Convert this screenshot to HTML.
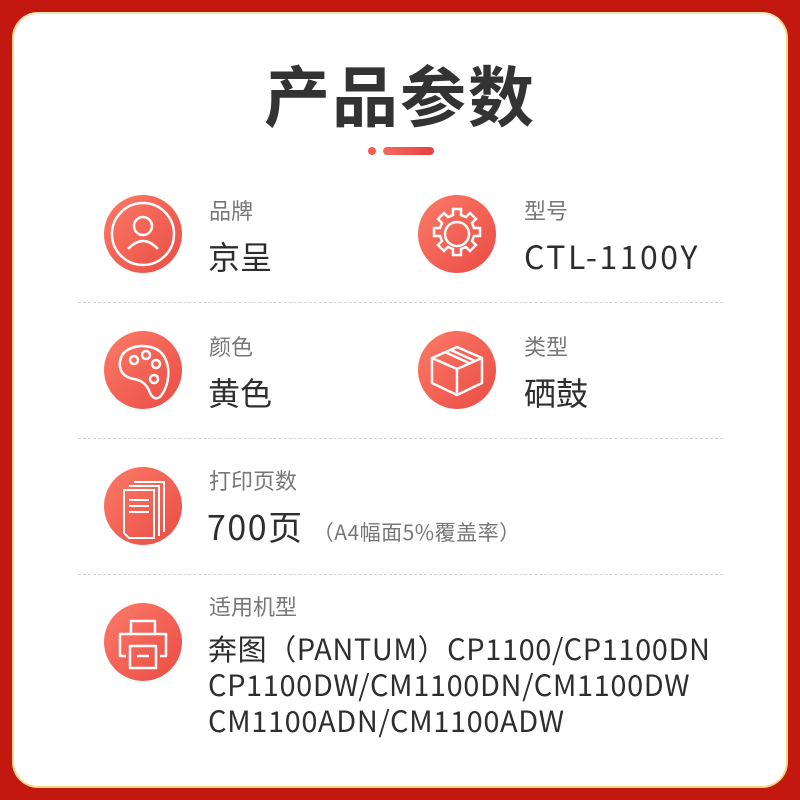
<!DOCTYPE html>
<html><head><meta charset="utf-8"><style>
*{margin:0;padding:0;box-sizing:border-box}
body{width:800px;height:800px;background:#c3180f;position:relative;overflow:hidden;font-family:"Noto Sans CJK SC","Liberation Sans",sans-serif}
.card{position:absolute;left:12px;top:12px;width:776px;height:776px;background:#fff;border-radius:26px;border:2px solid #f3d58a;border-top-color:#f8e6b0}
.t{position:absolute;left:0;width:800px;top:48px;text-align:center;font-size:66px;font-weight:bold;color:#333;letter-spacing:2px;line-height:90px}
.dot{position:absolute;left:368px;top:147px;width:8px;height:8px;border-radius:4px;background:#f25a52}
.bar{position:absolute;left:383px;top:147px;width:51px;height:8px;border-radius:4px;background:linear-gradient(90deg,#f6695f,#e64040)}
.c{position:absolute;width:78px;height:78px;border-radius:50%;background:linear-gradient(135deg,#fb7a68,#ea4c44)}
.c svg{position:absolute;left:0;top:0}
.l{position:absolute;font-size:22px;color:#777;line-height:26px}
.v{position:absolute;font-size:32px;color:#2e2e2e;line-height:38px}
.hr{position:absolute;left:78px;width:645px;border-top:1px dashed #d4d4d4}
.s{font-size:21px;color:#777;letter-spacing:0.5px}
</style></head><body>
<div class="card"></div>
<div class="t">产品参数</div>
<div class="dot"></div><div class="bar"></div>

<div class="c" style="left:104px;top:195px"><svg width="78" height="78" fill="none" stroke="#fff" stroke-width="2.5"><circle cx="39" cy="39" r="31"/><circle cx="39" cy="31" r="9"/><path d="M24 54 Q39 38 54 54"/></svg></div>
<div class="l" style="left:209px;top:197px">品牌</div>
<div class="v" style="left:208px;top:237px">京呈</div>

<div class="c" style="left:418px;top:195px"><svg width="78" height="78" fill="none" stroke="#fff" stroke-width="2.5"><circle cx="39" cy="39" r="12"/><path d="M35 14h8v6l5 2 4-4 6 6-4 4 2 5h6v8h-6l-2 5 4 4-6 6-4-4-5 2v6h-8v-6l-5-2-4 4-6-6 4-4-2-5h-6v-8h6l2-5-4-4 6-6 4 4 5-2z"/></svg></div>
<div class="l" style="left:524px;top:197px">型号</div>
<div class="v" style="left:524px;top:237px;letter-spacing:2.5px">CTL-1100Y</div>

<div class="hr" style="top:302px"></div>

<div class="c" style="left:104px;top:331px"><svg width="78" height="78" fill="none" stroke="#fff" stroke-width="2.5"><path d="M16 36 Q14 18 36 15 Q60 14 64 36 Q66 54 56 66 Q50 70 46 62 Q42 50 30 48 Q18 46 16 36z"/><circle cx="30" cy="29" r="4"/><circle cx="42" cy="24" r="4"/><circle cx="52" cy="33" r="4"/><circle cx="50" cy="48" r="4"/></svg></div>
<div class="l" style="left:209px;top:333px">颜色</div>
<div class="v" style="left:208px;top:373px">黄色</div>

<div class="c" style="left:418px;top:331px"><svg width="78" height="78" fill="none" stroke="#fff" stroke-width="2.5" stroke-linejoin="round"><path d="M14 27 L39 16 L64 27 L39 38 Z"/><path d="M14 27 V52 L39 64 L64 52 V27"/><path d="M39 38 V64"/><path d="M27 21 L51 32 M33 19 L57 30"/></svg></div>
<div class="l" style="left:524px;top:333px">类型</div>
<div class="v" style="left:524px;top:373px">硒鼓</div>

<div class="hr" style="top:438px"></div>

<div class="c" style="left:104px;top:467px"><svg width="78" height="78" fill="none" stroke="#fff" stroke-width="2"><path d="M30 15h30v50"/><path d="M25 19h30v50"/><path d="M20 23h30v48H25l-5-5z"/><path d="M25 33h20M25 39h20M25 45h20"/></svg></div>
<div class="l" style="left:209px;top:467px">打印页数</div>
<div class="v" style="left:207px;top:507px;font-size:34px;letter-spacing:1.5px">700页 <span class="s">（A4幅面5%覆盖率）</span></div>

<div class="hr" style="top:574px"></div>

<div class="c" style="left:104px;top:603px"><svg width="78" height="78" fill="none" stroke="#fff" stroke-width="2.5" stroke-linejoin="round"><path d="M27 31V18h24v13"/><path d="M22 53h-6V31h46v22h-6"/><path d="M26 43h26v22H26z"/><path d="M33 53h12"/></svg></div>
<div class="l" style="left:209px;top:593px">适用机型</div>
<div class="v" style="left:208px;top:630px;font-size:29px;line-height:36px;letter-spacing:0.6px">奔图（PANTUM）CP1100/CP1100DN<br>CP1100DW/CM1100DN/CM1100DW<br>CM1100ADN/CM1100ADW</div>
</body></html>
